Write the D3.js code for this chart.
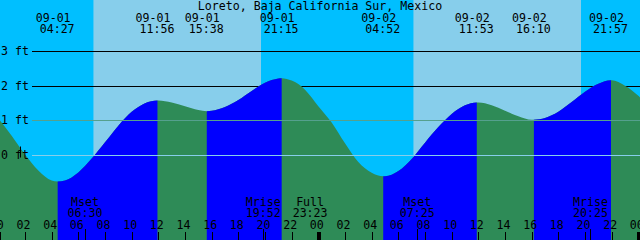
<!DOCTYPE html>
<html>
<head>
<meta charset="utf-8">
<script src="https://cdn.jsdelivr.net/npm/d3@7"></script>
<style>
  html, body { margin: 0; padding: 0; background: #fff; }
  svg { display: block; }
  text { font-family: "DejaVu Sans Mono", "Liberation Mono", monospace; font-size: 11.6px; fill: #000; }
</style>
</head>
<body>
<div id="chart"></div>
<script>
const title = "Loreto, Baja California Sur, Mexico";

// hours since 09-01 00:00 and tide height (ft)
const sampleHours = [0, 1, 2, 3, 4, 5, 6, 7, 8, 9, 10, 11, 12, 13, 14, 15, 16, 17, 18, 19, 20, 21, 22, 23, 24,
  25, 26, 27, 28, 29, 30, 31, 32, 33, 34, 35, 36, 37, 38, 39, 40, 41, 42, 43, 44, 45, 46, 47, 48, 49];
const sampleHeights = [1.07, 0.57, 0.03, -0.43, -0.72, -0.72, -0.49, -0.09, 0.38, 0.86, 1.26, 1.51, 1.59, 1.53, 1.42, 1.31, 1.29, 1.40, 1.60, 1.86, 2.10, 2.22, 2.16, 1.90, 1.42,
  0.95, 0.35, -0.19, -0.50, -0.60, -0.45, -0.10, 0.37, 0.82, 1.20, 1.45, 1.53, 1.45, 1.29, 1.13, 1.03, 1.08, 1.26, 1.54, 1.84, 2.07, 2.17, 2.01, 1.72, 1.33];

// high / low tide events
const tideDates = ["09-01", "09-01", "09-01", "09-01", "09-02", "09-02", "09-02", "09-02"];
const tideTimes = ["04:27", "11:56", "15:38", "21:15", "04:52", "11:53", "16:10", "21:57"];
const tideHeights = [-0.75, 1.59, 1.28, 2.23, -0.60, 1.53, 1.03, 2.17];
const tideKinds = ["low", "high", "low", "high", "low", "high", "low", "high"];

// sun (day spans) and moon events
const sunriseTimes = ["09-01 07:08", "09-02 07:08"];
const sunsetTimes = ["09-01 19:42", "09-02 19:42"];
const moonNames = ["Mset", "Mrise", "Full", "Mset", "Mrise"];
const moonTimes = ["09-01 06:30", "09-01 19:52", "09-01 23:23", "09-02 07:25", "09-02 20:25"];
const moonTicks = [true, true, false, true, true];

const footLevels = [0, 1, 2, 3];
const hourTicks = [0, 2, 4, 6, 8, 10, 12, 14, 16, 18, 20, 22, 24, 26, 28, 30, 32, 34, 36, 38, 40, 42, 44, 46, 48];

function toHours(date, hm) {
  const day = +date.split("-")[1] - 1;
  const [h, m] = hm.split(":").map(Number);
  return day * 24 + h + m / 60;
}
function stamp(s) { const p = s.split(" "); return toHours(p[0], p[1]); }

const width = 640, height = 240;
const colors = { night: "#00bfff", day: "#87ceeb", ebb: "#2e8b57", flood: "#0000ff", msl: "#55a08e", datum: "#87ceeb" };

const x = d3.scaleLinear().domain([0.125, 48.125]).range([0, width]);
const y = d3.scaleLinear().domain([0, 3]).range([155.5, 51.5]);

const svg = d3.select("#chart").append("svg")
  .attr("width", width)
  .attr("height", height);

// sky: night everywhere, day spans on top
svg.append("rect").attr("width", width).attr("height", height).attr("fill", colors.night);
svg.selectAll(".day")
  .data(sunriseTimes.map((s, i) => [stamp(s), stamp(sunsetTimes[i])]))
  .enter().append("rect")
  .attr("class", "day")
  .attr("x", d => x(d[0]))
  .attr("width", d => x(d[1]) - x(d[0]))
  .attr("y", 0)
  .attr("height", height)
  .attr("fill", colors.day);

// foot lines behind the water
svg.selectAll(".foot")
  .data(footLevels)
  .enter().append("line")
  .attr("class", "foot")
  .attr("x1", 32).attr("x2", width)
  .attr("y1", d => Math.floor(y(d)) + 0.5)
  .attr("y2", d => Math.floor(y(d)) + 0.5)
  .attr("stroke", "#000");

// water curve: samples + event extremes
const pts = sampleHours.map((h, i) => ({ t: h, v: sampleHeights[i] }))
  .concat(tideTimes.map((tm, i) => ({ t: toHours(tideDates[i], tm), v: tideHeights[i] })))
  .sort((a, b) => a.t - b.t);

const area = d3.area()
  .x(d => x(d.t))
  .y0(height)
  .y1(d => y(d.v))
  .curve(d3.curveMonotoneX);

svg.append("clipPath").attr("id", "water")
  .append("path").datum(pts).attr("d", area);

const water = svg.append("g").attr("clip-path", "url(#water)");
water.append("rect").attr("width", width).attr("height", height).attr("fill", colors.ebb);

const eventHours = tideTimes.map((tm, i) => toHours(tideDates[i], tm));
const rising = [];
eventHours.forEach((t, i) => {
  if (tideKinds[i] === "low") rising.push([t, i + 1 < eventHours.length ? eventHours[i + 1] : 49]);
});
water.selectAll(".flood")
  .data(rising)
  .enter().append("rect")
  .attr("class", "flood")
  .attr("x", d => x(d[0]))
  .attr("width", d => x(d[1]) - x(d[0]))
  .attr("y", 0)
  .attr("height", height)
  .attr("fill", colors.flood);

// mean sea level and datum lines over the water
[[1, colors.msl], [0, colors.datum]].forEach(([lv, c]) => {
  svg.append("line")
    .attr("x1", 32).attr("x2", width)
    .attr("y1", Math.floor(y(lv)) + 0.5)
    .attr("y2", Math.floor(y(lv)) + 0.5)
    .attr("stroke", c);
});

// foot labels
svg.selectAll(".flabel")
  .data(footLevels)
  .enter().append("text")
  .attr("class", "flabel")
  .attr("x", 1)
  .attr("y", d => Math.floor(y(d)) + 4)
  .text(d => d + " ft");

svg.append("line")
  .attr("x1", 20.5).attr("x2", 20.5)
  .attr("y1", y(0) - 9).attr("y2", y(0) + 2)
  .attr("stroke", "#000");

// title
svg.append("text")
  .attr("x", width / 2)
  .attr("y", 10)
  .attr("text-anchor", "middle")
  .text(title);

// tide event labels
const ev = svg.selectAll(".ev")
  .data(tideTimes.map((tm, i) => ({ date: tideDates[i], time: tm, t: eventHours[i] })))
  .enter().append("g")
  .attr("class", "ev");
ev.append("text")
  .attr("x", d => x(d.t) - 4.5)
  .attr("y", 22)
  .attr("text-anchor", "middle")
  .text(d => d.date);
ev.append("text")
  .attr("x", d => x(d.t) - 0.5)
  .attr("y", 33)
  .attr("text-anchor", "middle")
  .text(d => d.time);

// moon events
const moon = svg.selectAll(".moon")
  .data(moonNames.map((n, i) => ({ name: n, time: moonTimes[i].split(" ")[1], t: stamp(moonTimes[i]), tick: moonTicks[i] })))
  .enter().append("g")
  .attr("class", "moon");
moon.append("text")
  .attr("x", d => x(d.t))
  .attr("y", 206)
  .attr("text-anchor", "middle")
  .text(d => d.name);
moon.append("text")
  .attr("x", d => x(d.t))
  .attr("y", 217)
  .attr("text-anchor", "middle")
  .text(d => d.time);
moon.filter(d => d.tick).append("line")
  .attr("x1", d => Math.floor(x(d.t)) + 0.5)
  .attr("x2", d => Math.floor(x(d.t)) + 0.5)
  .attr("y1", 229).attr("y2", height)
  .attr("stroke", "#000");

// hour axis along the bottom
const axis = d3.axisTop(x)
  .tickValues(hourTicks)
  .tickSize(8)
  .tickPadding(3)
  .tickFormat(h => String(h % 24).padStart(2, "0"));

const gx = svg.append("g")
  .attr("transform", `translate(0,${height})`)
  .call(axis);
gx.select(".domain").remove();
gx.selectAll("line").attr("stroke", "#000").attr("shape-rendering", "crispEdges");
gx.selectAll(".tick").filter(h => h % 24 === 0).select("line").attr("stroke-width", 4);
gx.selectAll("text")
  .attr("x", -2)
  .attr("dy", 0)
  .style("font-family", "DejaVu Sans Mono, monospace")
  .style("font-size", "11.6px")
  .attr("fill", "#000");
</script>
</body>
</html>
